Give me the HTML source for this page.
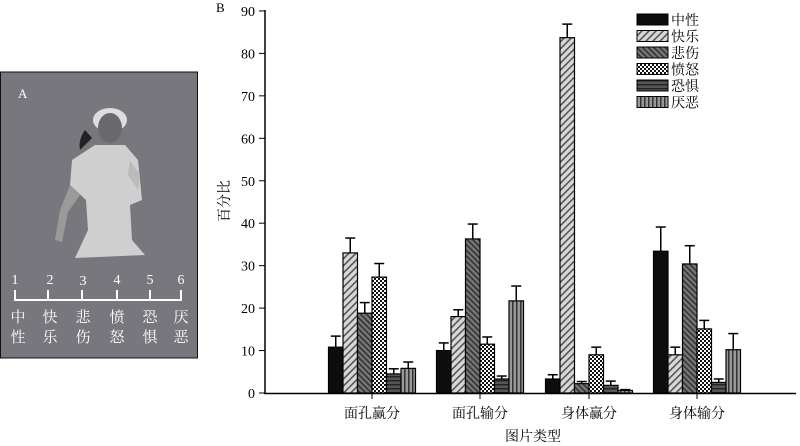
<!DOCTYPE html>
<html><head><meta charset="utf-8"><style>
body{margin:0;background:#fff;width:800px;height:446px;overflow:hidden}
svg{display:block}
text{font-family:"Liberation Serif","Noto Serif CJK SC",serif}
</style></head><body>
<svg id="s" width="800" height="446" xmlns="http://www.w3.org/2000/svg">
<defs>
<pattern id="p1" width="5" height="5" patternUnits="userSpaceOnUse" patternTransform="rotate(45)"><rect width="5" height="5" fill="#d8d8d8"/><rect width="1.6" height="5" fill="#555"/></pattern>
<pattern id="p2" width="4" height="4" patternUnits="userSpaceOnUse" patternTransform="rotate(-45)"><rect width="4" height="4" fill="#777"/><rect width="1.6" height="4" fill="#333"/></pattern>
<pattern id="p3" width="4" height="4" patternUnits="userSpaceOnUse"><rect width="4" height="4" fill="#fff"/><rect width="2" height="2" fill="#111"/><rect x="2" y="2" width="2" height="2" fill="#111"/></pattern>
<pattern id="p4" width="4" height="4" patternUnits="userSpaceOnUse"><rect width="4" height="4" fill="#555"/><rect width="4" height="1.4" fill="#222"/></pattern>
<pattern id="p5" width="4" height="4" patternUnits="userSpaceOnUse"><rect width="4" height="4" fill="#999"/><rect width="1.5" height="4" fill="#333"/></pattern>
</defs>
<!-- Panel A -->
<rect x="0.5" y="72" width="197" height="286" fill="#78777d" stroke="#111"/>
<text x="18" y="98" fill="#fff" font-size="13">A</text>
<ellipse cx="110" cy="120" rx="17" ry="12" fill="#ddd"/>
<ellipse cx="110" cy="128" rx="12" ry="15" fill="#6a6a6e"/>
<path d="M85 130 Q78 140 80 150 L92 138Z" fill="#222"/>
<path d="M95 145 L125 145 L138 160 L142 200 L130 205 L132 240 L145 255 L75 258 L88 230 L86 200 L70 185 L72 160Z" fill="#cfcfcf"/>
<path d="M70 185 L60 210 L55 240 L62 242 L68 212 L80 195Z" fill="#9a9a9a"/>
<path d="M130 160 L140 175 L138 190 L128 175Z" fill="#bbb"/>
<g fill="none" stroke="#fff" stroke-width="2">
<path d="M15 290 V300 H181 V290 M48 290 V300 M82 290 V300 M117 290 V300 M150 290 V300"/>
</g>
<g fill="#fff" font-size="14" text-anchor="middle">
<text x="15" y="284">1</text><text x="50" y="284">2</text><text x="83" y="285">3</text><text x="117" y="284">4</text><text x="150" y="284">5</text><text x="181" y="284">6</text>
</g>
<g fill="#fff" font-size="15" text-anchor="middle" style="font-family:'Noto Serif CJK SC',serif">
<text x="18" y="322">中</text><text x="50" y="322">快</text><text x="83" y="322">悲</text><text x="117" y="322">愤</text><text x="150" y="322">恐</text><text x="181" y="322">厌</text>
<text x="18" y="342">性</text><text x="50" y="342">乐</text><text x="83" y="342">伤</text><text x="117" y="342">怒</text><text x="150" y="342">惧</text><text x="181" y="342">恶</text>
</g>
<!-- Panel B -->
<text x="216" y="12" font-size="13">B</text>
<g id="bars"></g>
<line x1="265" y1="10" x2="265" y2="394" stroke="#000" stroke-width="1.5"/>
<line x1="264" y1="393.5" x2="796" y2="393.5" stroke="#000" stroke-width="1.5"/>
<g id="ax" font-size="14" text-anchor="end"></g>
<g font-size="14" text-anchor="middle" style="font-family:'Noto Serif CJK SC',serif">
<text x="372" y="418">面孔赢分</text><text x="480" y="418">面孔输分</text><text x="589" y="418">身体赢分</text><text x="697" y="418">身体输分</text>
<text x="533" y="441">图片类型</text>
<text transform="translate(229,201) rotate(-90)">百分比</text>
</g>
<g id="leg" font-size="14" style="font-family:'Noto Serif CJK SC',serif"></g>
</svg>
<script>
var ns="http://www.w3.org/2000/svg";
function el(p,t,a,txt){var e=document.createElementNS(ns,t);for(var k in a)e.setAttribute(k,a[k]);if(txt)e.textContent=txt;document.getElementById(p).appendChild(e);}
var y0=393,k=4.245;
for(var v=0;v<=90;v+=10){var y=y0-v*k;el("ax","line",{x1:259,x2:265,y1:y,y2:y,stroke:"#000"});el("ax","text",{x:255,y:y+5},String(v));}
var fills=["#0d0d0d","url(#p1)","url(#p2)","url(#p3)","url(#p4)","url(#p5)"];
var d=[[[10.8,2.6],[33,3.5],[18.8,2.5],[27.3,3.2],[4.5,1.2],[5.8,1.5]],
[[10,1.8],[18,1.6],[36.3,3.5],[11.5,1.7],[3.3,0.7],[21.7,3.5]],
[[3.3,1],[83.7,3.2],[2.2,0.5],[9,1.8],[1.8,1],[0.6,0.2]],
[[33.4,5.7],[9,1.8],[30.4,4.3],[15.1,2],[2.5,0.8],[10.2,3.8]]];
var cs=[372,480,589,697],w=14.5;
d.forEach(function(g,i){g.forEach(function(b,j){var x=cs[i]-3*w+j*w,h=b[0]*k,yt=y0-h,cx=x+w/2,ye=y0-(b[0]+b[1])*k;
el("bars","line",{x1:cx,x2:cx,y1:yt,y2:ye,stroke:"#000","stroke-width":1.5});
el("bars","line",{x1:cx-5,x2:cx+5,y1:ye,y2:ye,stroke:"#000","stroke-width":1.5});
el("bars","rect",{x:x,y:yt,width:w,height:h,fill:fills[j],stroke:"#000","stroke-width":1.2});});
el("bars","line",{x1:cs[i],x2:cs[i],y1:393,y2:399,stroke:"#000"});});
var names=["中性","快乐","悲伤","愤怒","恐惧","厌恶"];
names.forEach(function(n,j){var y=14+j*16.5;el("leg","rect",{x:637,y:y,width:31,height:11,fill:fills[j],stroke:"#000"});el("leg","text",{x:671,y:y+11},n);});
</script>
</body></html>
